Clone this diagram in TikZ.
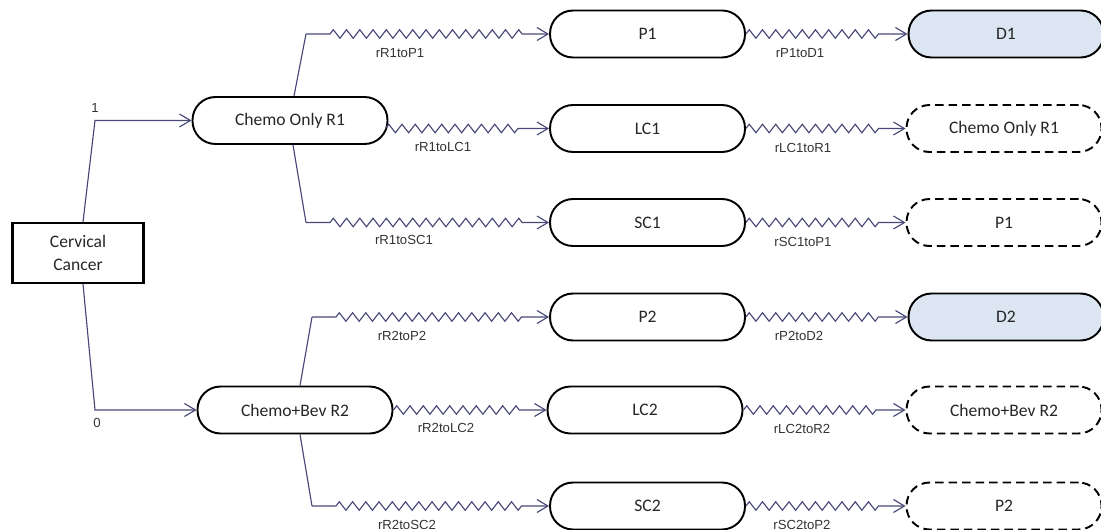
\documentclass[tikz,border=0pt]{standalone}
\usepackage{fontspec}
\setmainfont{Carlito}
\newfontfamily\lblfont{Liberation Sans}
\usetikzlibrary{decorations.pathmorphing,arrows.meta,calc}
\definecolor{edgec}{RGB}{72,72,120}
\definecolor{dfill}{RGB}{220,230,242}
\tikzset{
  state/.style={draw=black, line width=1.1pt, rounded corners=0.46cm,
    minimum width=3.9cm, minimum height=0.94cm, inner sep=0pt,
    font=\fontsize{10}{12}\selectfont, text=black!85},
  dstate/.style={state, dash pattern=on 0.17cm off 0.1cm},
  dead/.style={state, fill=dfill},
  wire/.style={draw=edgec, line width=0.65pt},
  tip/.style={-{Straight Barb[length=0.22cm,width=0.26cm]}},
  zz/.style={wire, tip, decorate, decoration={zigzag, segment length=0.265cm,
    amplitude=0.085cm, pre length=#1, post length=0.5cm}},
  zz/.default=0pt,
  lbl/.style={font=\lblfont\fontsize{7.5}{9}\selectfont, text=black!80, inner sep=0pt}
}
\begin{document}
\begin{tikzpicture}[x=0.02cm,y=-0.02cm]
\useasboundingbox (0,0) rectangle (1101,530);
% nodes
\node[draw=black, line width=1.2pt, minimum width=2.62cm, minimum height=1.2cm,
  align=center, inner sep=0pt, font=\fontsize{10}{13}\selectfont, text=black!85] (cc) at (78,253) {Cervical\\Cancer};
\node[state] (R1) at (290,120.5) {Chemo Only R1};
\node[state] (R2) at (295,410) {Chemo+Bev R2};
\node[state] (P1) at (647.5,34) {P1};
\node[state] (LC1) at (647.5,128.5) {LC1};
\node[state] (SC1) at (647.5,222.5) {SC1};
\node[state] (P2) at (647.5,317) {P2};
\node[state] (LC2) at (645,410) {LC2};
\node[state] (SC2) at (647.5,506) {SC2};
\node[dead] (D1) at (1006,34) {D1};
\node[dstate] (R1b) at (1004,128.5) {Chemo Only R1};
\node[dstate] (P1b) at (1004,222.5) {P1};
\node[dead] (D2) at (1006,317) {D2};
\node[dstate] (R2b) at (1004,410) {Chemo+Bev R2};
\node[dstate] (P2b) at (1004,506) {P2};
% junction columns
\coordinate (k0) at (95,0);
\coordinate (j1) at (306,0);
\coordinate (j2) at (312,0);
% root edges
\draw[wire,tip] ($(cc.north)+(5,0)$) -- (k0 |- R1.west) -- (R1.west);
\draw[wire,tip] ($(cc.south)+(5,0)$) -- (k0 |- R2.west) -- (R2.west);
\node[lbl] (l1) at (95,108) {1};
\node[lbl] (l0) at (97,423) {0};
% R1 branches
\draw[wire] ($(R1.north)+(4,0)$) -- (j1 |- P1.west);
\draw[zz=0.48cm] (j1 |- P1.west) -- (P1.west);
\draw[zz] ($(LC1.west -| R1.east)+(-3,0)$) -- (LC1.west);
\draw[wire] ($(R1.south)+(3,0)$) -- (j1 |- SC1.west);
\draw[zz=0.48cm] (j1 |- SC1.west) -- (SC1.west);
% R2 branches
\draw[wire] ($(R2.north)+(5,0)$) -- (j2 |- P2.west);
\draw[zz=0.48cm] (j2 |- P2.west) -- (P2.west);
\draw[zz] (R2.east) -- (LC2.west);
\draw[wire] ($(R2.south)+(5,0)$) -- (j2 |- SC2.west);
\draw[zz=0.48cm] (j2 |- SC2.west) -- (SC2.west);
% right column
\draw[zz] (P1.east) -- (D1.west);
\draw[zz] (LC1.east) -- (R1b.west);
\draw[zz] (SC1.east) -- (P1b.west);
\draw[zz] (P2.east) -- (D2.west);
\draw[zz] (LC2.east) -- (R2b.west);
\draw[zz] (SC2.east) -- (P2b.west);
% labels
\node[lbl] at (400,53) {rR1toP1};
\node[lbl] at (443,147) {rR1toLC1};
\node[lbl] at (404,240) {rR1toSC1};
\node[lbl] at (800,53) {rP1toD1};
\node[lbl] at (803,148) {rLC1toR1};
\node[lbl] at (803,242) {rSC1toP1};
\node[lbl] at (402,336) {rR2toP2};
\node[lbl] at (446,428) {rR2toLC2};
\node[lbl] at (407,525) {rR2toSC2};
\node[lbl] at (799,336) {rP2toD2};
\node[lbl] at (802,429) {rLC2toR2};
\node[lbl] at (802,525) {rSC2toP2};
\end{tikzpicture}
\end{document}
